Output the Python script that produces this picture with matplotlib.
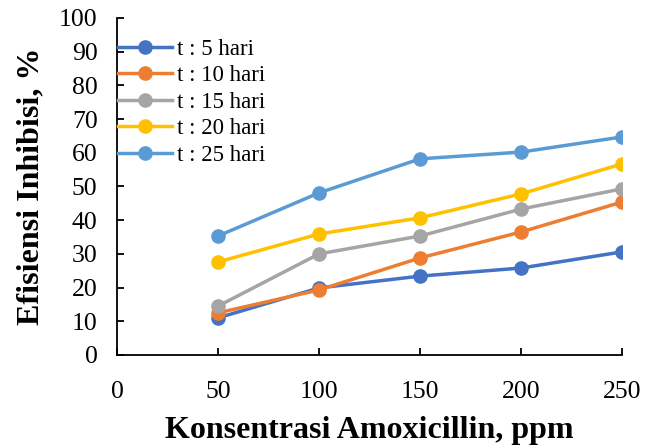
import matplotlib
matplotlib.use("Agg")
import matplotlib.pyplot as plt

x = [50, 100, 150, 200, 250]
t5 = [11.0, 19.9, 23.4, 25.8, 30.6]
t10 = [12.5, 19.3, 28.8, 36.5, 45.4]
t15 = [14.5, 30.0, 35.3, 43.3, 49.3]
t20 = [27.6, 35.9, 40.7, 47.8, 56.7]
t25 = [35.3, 48.1, 58.2, 60.2, 64.7]
labels = ["t : 5 hari", "t : 10 hari", "t : 15 hari", "t : 20 hari", "t : 25 hari"]
colors = ["#4472C4", "#ED7D31", "#A5A5A5", "#FFC000", "#5B9BD5"]

plt.rcParams['font.family'] = ['Liberation Serif', 'DejaVu Serif']

fig = plt.figure(figsize=(6.57, 4.48), dpi=100)
ax = fig.add_axes([0.178, 0.2076, 0.769, 0.7524])

for ys, lab, c in zip([t5, t10, t15, t20, t25], labels, colors):
    ax.plot(x, ys, color=c, lw=2.5, marker='o', markersize=9.5, label=lab)

ax.set_xlim(0, 250)
ax.set_ylim(0, 100)
ax.set_xticks([0, 50, 100, 150, 200, 250])
ax.set_yticks(range(0, 101, 10))
ax.tick_params(direction='in', labelsize=18.5, length=5, width=1.3)
ax.tick_params(axis='y', pad=14)
ax.tick_params(axis='x', pad=19)
for s in ['top', 'right']:
    ax.spines[s].set_visible(False)
for s in ['left', 'bottom']:
    ax.spines[s].set_linewidth(1.3)

ax.set_xlabel("Konsentrasi Amoxicillin, ppm", fontsize=23, fontweight='bold', labelpad=9)
ax.set_ylabel("Efisiensi Inhibisi, %", fontsize=23, fontweight='bold', labelpad=10)

ax.legend(loc='upper left', bbox_to_anchor=(0.002, 0.938), frameon=False, fontsize=16.5,
          handlelength=2.36, handletextpad=0.22, labelspacing=0.24, borderaxespad=0,
          borderpad=0)

fig.savefig("out.png", dpi=100)
